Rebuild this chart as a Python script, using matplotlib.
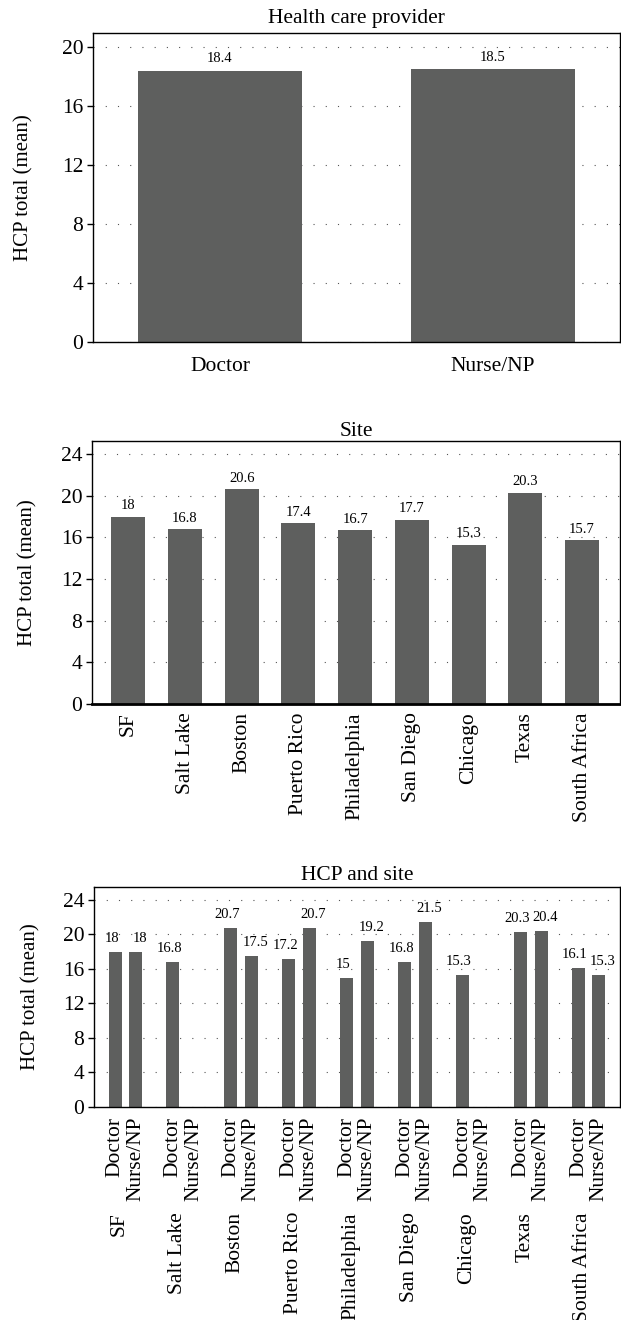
import numpy as np
import matplotlib
matplotlib.use("Agg")
import matplotlib.pyplot as plt

plt.rcParams['font.family'] = ['Liberation Serif', 'DejaVu Serif']

# Panel 1: health care provider
hcp_names = ["Doctor", "Nurse/NP"]
hcp_means = [18.4, 18.5]

# Panel 2: site
sites = ["SF", "Salt Lake", "Boston", "Puerto Rico", "Philadelphia",
         "San Diego", "Chicago", "Texas", "South Africa"]
site_means = [18, 16.8, 20.6, 17.4, 16.7, 17.7, 15.3, 20.3, 15.7]
site_labels = ["18", "16.8", "20.6", "17.4", "16.7", "17.7", "15.3", "20.3", "15.7"]

# Panel 3: HCP and site (nan = no nurse data)
doctor_means = [18, 16.8, 20.7, 17.2, 15, 16.8, 15.3, 20.3, 16.1]
nurse_means = [18, np.nan, 17.5, 20.7, 19.2, 21.5, np.nan, 20.4, 15.3]
doctor_labels = ["18", "16.8", "20.7", "17.2", "15", "16.8", "15.3", "20.3", "16.1"]
nurse_labels = ["18", "", "17.5", "20.7", "19.2", "21.5", "", "20.4", "15.3"]

BAR = '#5e5f5e'
W, H = 621, 1320
TICK_FS = 15.5
VAL_FS = 10.5


def px_axes(fig, left, right, top, bottom):
    return fig.add_axes([left / W, (H - bottom) / H, (right - left) / W, (bottom - top) / H])


def style(ax, ymax, ticks, ylabel_x):
    ax.set_ylim(0, ymax)
    ax.set_yticks(ticks)
    ax.yaxis.grid(True, linestyle=(0, (1, 10)), color='#555555', linewidth=0.8)
    ax.set_axisbelow(True)
    ax.tick_params(axis='y', direction='out', length=4, width=1, labelsize=TICK_FS, pad=3)
    ax.tick_params(axis='x', length=0, labelsize=TICK_FS)
    for s in ax.spines.values():
        s.set_linewidth(1.0)
    ax.set_ylabel("HCP total (mean)", fontsize=15)
    ax.yaxis.set_label_coords(ylabel_x, 0.5)


fig = plt.figure(figsize=(6.21, 13.2), dpi=100)

# --- Panel 1
ax1 = px_axes(fig, 93, 620, 33, 342)
x1 = np.arange(len(hcp_names))
ax1.bar(x1, hcp_means, width=0.6, color=BAR)
ax1.set_xlim(-0.465, 1.465)
ax1.set_xticks(x1)
ax1.set_xticklabels(hcp_names)
style(ax1, 20.95, [0, 4, 8, 12, 16, 20], (33 - 93) / 527)
ax1.tick_params(axis='x', pad=11)
for xi, v in zip(x1, hcp_means):
    ax1.annotate(f"{v}", (xi, v), xytext=(0, 4), textcoords='offset points',
                 ha='center', va='bottom', fontsize=VAL_FS)
ax1.set_title("Health care provider", fontsize=15.5, pad=7)

# --- Panel 2
ax2 = px_axes(fig, 92, 620, 441, 704)
x2 = np.arange(len(sites))
ax2.bar(x2, site_means, width=0.6, color=BAR)
ax2.set_xlim(-0.64, 8.67)
ax2.set_xticks(x2)
ax2.set_xticklabels(sites, rotation=90)
style(ax2, 25.25, [0, 4, 8, 12, 16, 20, 24], (37 - 92) / 528)
ax2.tick_params(axis='x', pad=6)
ax2.spines['bottom'].set_linewidth(2.0)
for xi, v, lab in zip(x2, site_means, site_labels):
    ax2.annotate(lab, (xi, v), xytext=(0, 3), textcoords='offset points',
                 ha='center', va='bottom', fontsize=VAL_FS)
ax2.set_title("Site", fontsize=15.5, pad=3)

# --- Panel 3
ax3 = px_axes(fig, 94, 620, 887, 1107)
g = np.arange(len(sites))
off, bw = 0.177, 0.225
ax3.bar(g - off, doctor_means, width=bw, color=BAR)
ax3.bar(g + off, nurse_means, width=bw, color=BAR)
ax3.set_xlim(-0.54, 8.54)
pos = np.ravel(np.column_stack([g - off, g + off]))
ax3.set_xticks(pos)
ax3.set_xticklabels(hcp_names * len(sites), rotation=90)
style(ax3, 25.5, [0, 4, 8, 12, 16, 20, 24], (40 - 94) / 526)
ax3.tick_params(axis='x', pad=7)
for gi, v, lab in zip(g, doctor_means, doctor_labels):
    ax3.annotate(lab, (gi - off, v), xytext=(-2.5, 5), textcoords='offset points',
                 ha='center', va='bottom', fontsize=VAL_FS)
for gi, v, lab in zip(g, nurse_means, nurse_labels):
    if lab:
        ax3.annotate(lab, (gi + off, v), xytext=(3, 5), textcoords='offset points',
                     ha='center', va='bottom', fontsize=VAL_FS)
for gi, name in zip(g, sites):
    ax3.text(gi - 0.1, -105 / 220, name, transform=ax3.get_xaxis_transform(),
             rotation=90, ha='center', va='top', fontsize=TICK_FS)
ax3.set_title("HCP and site", fontsize=15.5, pad=5)

fig.savefig("out.png", dpi=100)
